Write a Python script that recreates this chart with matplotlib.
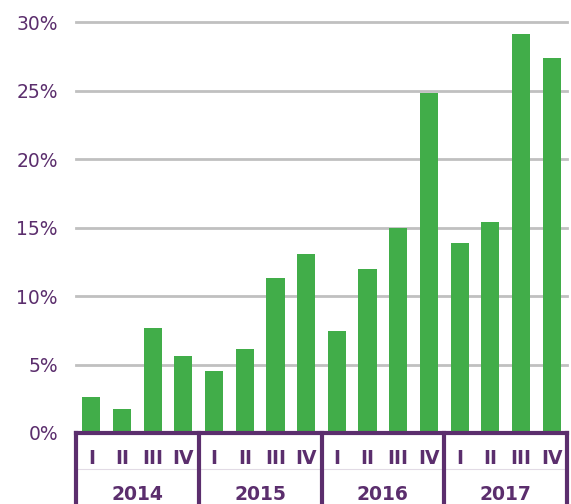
import matplotlib.pyplot as plt
import matplotlib.transforms as mtransforms

years = ["2014", "2015", "2016", "2017"]
quarters = ["I", "II", "III", "IV"]
growth = [2.6, 1.75, 7.65, 5.6,
          4.5, 6.1, 11.3, 13.05,
          7.45, 12.0, 15.0, 24.8,
          13.85, 15.4, 29.1, 27.4]
yticks = [0, 5, 10, 15, 20, 25, 30]

purple = "#5b2e6d"
green = "#41ad49"

fig = plt.figure(figsize=(5.71, 5.04), dpi=100)
ax = fig.add_axes([76 / 571, 71 / 504, 491 / 571, 411 / 504])

xs = list(range(len(growth)))
ax.bar(xs, growth, width=0.59, color=green, zorder=3)

ax.set_xlim(-0.5, len(growth) - 0.5)
ax.set_ylim(0, 30)
ax.set_yticks(yticks)
ax.set_yticklabels([f"{t}%" for t in yticks], color=purple, fontsize=13.5)
ax.tick_params(axis="y", length=0, pad=13)
ax.set_xticks([])
for t in yticks[1:]:
    ax.axhline(t, color="#c0c0c0", linewidth=2, zorder=1, clip_on=False)
for side in ax.spines.values():
    side.set_visible(False)

# quarter / year frame under the bars
trans = mtransforms.blended_transform_factory(ax.transData, ax.transAxes)
bottom = -75 / 411
ax.plot([-0.5, len(growth) - 0.5], [0, 0], color=purple, linewidth=3,
        transform=trans, clip_on=False, zorder=4, solid_capstyle="projecting")
ax.plot([-0.5, len(growth) - 0.5], [-36 / 411, -36 / 411], color="#e2dbe5",
        linewidth=0.8, transform=trans, clip_on=False)
for k in range(len(years) + 1):
    xb = 4 * k - 0.5
    ax.plot([xb, xb], [0, bottom], color=purple, linewidth=3,
            transform=trans, clip_on=False, zorder=4)

for i in xs:
    ax.text(i, -25 / 411, quarters[i % 4], transform=trans, ha="center",
            va="center", color=purple, fontsize=13.5, fontweight="bold")
for k, yr in enumerate(years):
    ax.text(4 * k + 1.5, -62 / 411, yr, transform=trans, ha="center",
            va="center", color=purple, fontsize=13.5, fontweight="bold")

fig.savefig("out.png", dpi=100)
